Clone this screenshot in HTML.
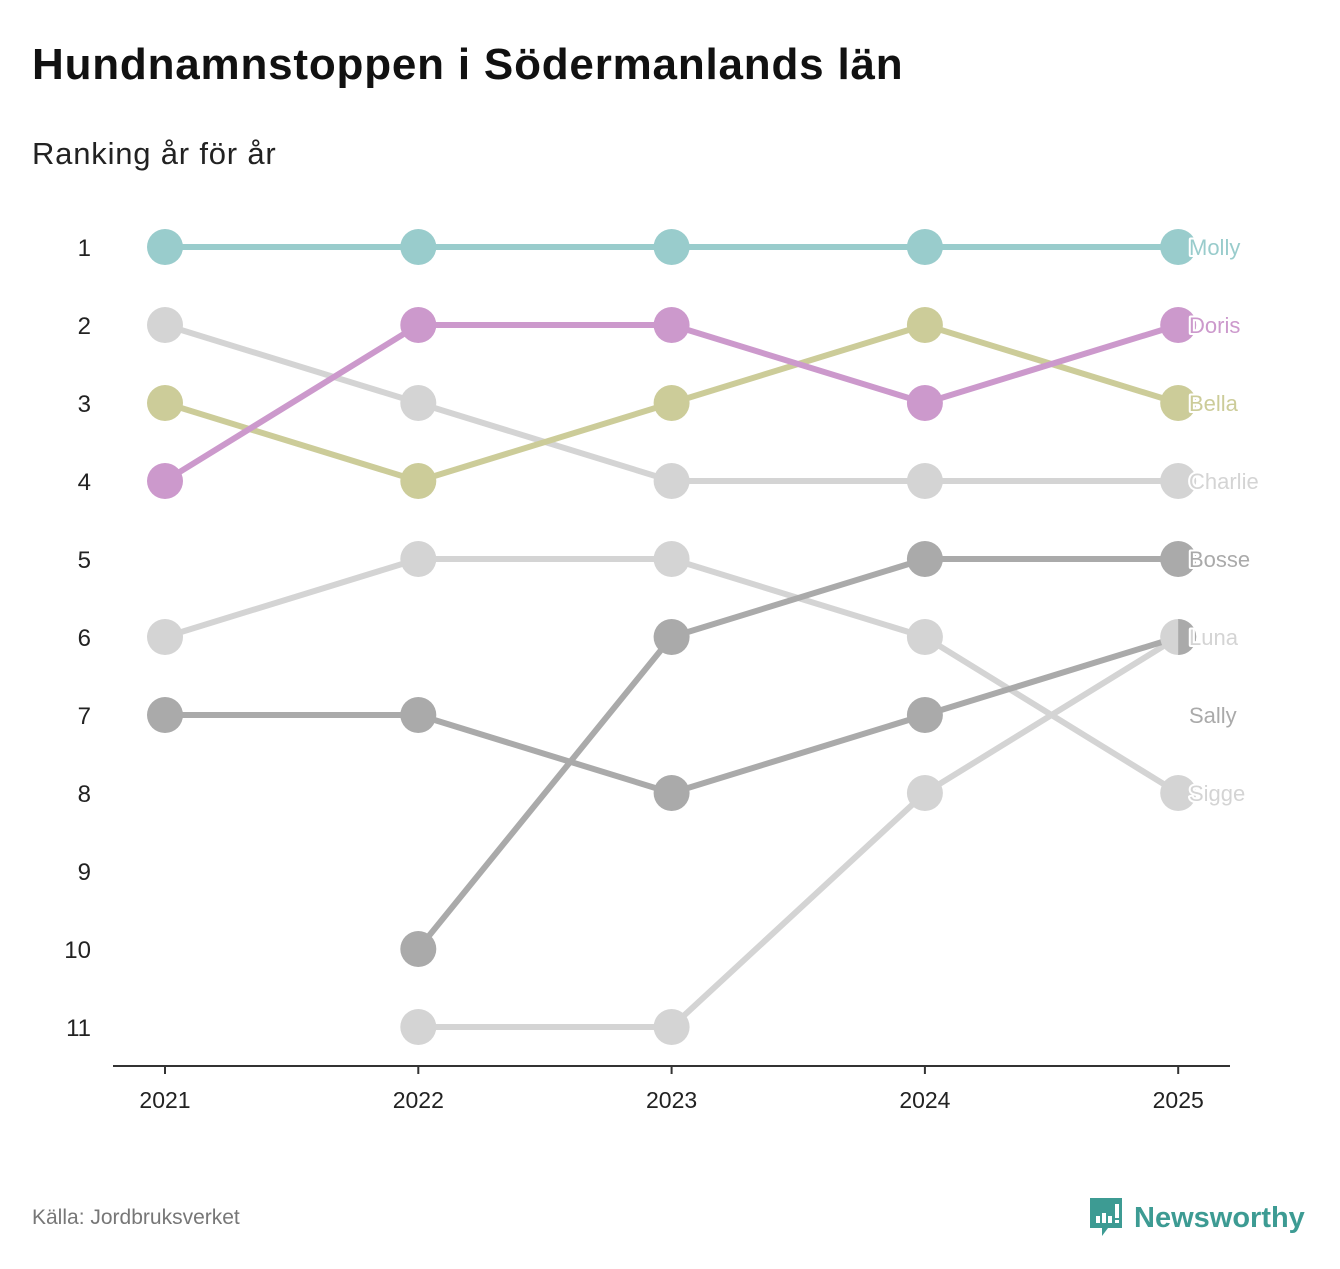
<!DOCTYPE html>
<html><head><meta charset="utf-8">
<style>
body{margin:0;background:#fff;font-family:"Liberation Sans",sans-serif;}
#wrap{position:relative;width:1340px;height:1269px;overflow:hidden;}
h1{position:absolute;left:32px;top:40px;margin:0;font-size:44px;letter-spacing:0.8px;font-weight:bold;color:#111;}
.sub{position:absolute;left:32px;top:136px;font-size:31px;letter-spacing:0.8px;color:#222;}
.src{position:absolute;left:32px;top:1206px;font-size:21px;color:#777;}
.logo{position:absolute;left:1088px;top:1196px;display:flex;align-items:center;}
.logo span{font-size:29px;font-weight:bold;color:#3d9b93;margin-left:10px;}
</style></head><body>
<div id="wrap">
<h1>Hundnamnstoppen i Södermanlands län</h1>
<div class="sub">Ranking år för år</div>
<svg id="chart" width="1340" height="1269" style="position:absolute;left:0;top:0"></svg>
<div class="src">Källa: Jordbruksverket</div>
<div class="logo">
<svg width="36" height="44" viewBox="0 0 36 44"><path d="M2 2h32v30H20l-6 8v-8H2z" fill="#3d9b93"/><rect x="8" y="20" width="4" height="7" fill="#fff"/><rect x="14" y="17" width="4" height="10" fill="#fff"/><rect x="20" y="20" width="4" height="7" fill="#fff"/><rect x="27" y="8" width="4" height="14" fill="#fff"/><rect x="27" y="24" width="4" height="3" fill="#fff"/></svg>
<span>Newsworthy</span></div>
</div>
<script>
const years=[2021,2022,2023,2024,2025];
const rankTicks=[1,2,3,4,5,6,7,8,9,10,11];
const molly=[1,1,1,1,1];
const doris=[4,2,2,3,2];
const bella=[3,4,3,2,3];
const charlie=[2,3,4,4,4];
const sigge=[6,5,5,6,8];
const bosse=[null,10,6,5,5];
const sally=[7,7,8,7,6];
const luna=[null,11,11,8,6];
const seriesNames=["Sigge","Luna","Charlie","Bosse","Sally","Bella","Doris","Molly"];
const seriesValues=[sigge,luna,charlie,bosse,sally,bella,doris,molly];
const seriesColors=["#d4d4d4","#d4d4d4","#d4d4d4","#aaaaaa","#aaaaaa","#cccc99","#cc99cc","#99cccc"];
const labelRanks={Molly:1,Doris:2,Bella:3,Charlie:4,Bosse:5,Luna:6,Sally:7,Sigge:8};

const NS="http://www.w3.org/2000/svg";
const svg=document.getElementById('chart');
const x=i=>165+i*253.3;
const y=r=>247+(r-1)*78;
function mk(t,a){const e=document.createElementNS(NS,t);for(const k in a)e.setAttribute(k,a[k]);svg.appendChild(e);return e;}

rankTicks.forEach(r=>{const t=mk('text',{x:91,y:y(r)+9,'text-anchor':'end','font-size':24,fill:'#222'});t.textContent=r;

});
const ax=mk('line',{x1:113,x2:1230,y1:1066,y2:1066,stroke:'#333','stroke-width':2});


years.forEach((yr,i)=>{const tk=mk('line',{x1:x(i),x2:x(i),y1:1066,y2:1074,stroke:'#333','stroke-width':2});


const t=mk('text',{x:x(i),y:1108,'text-anchor':'middle','font-size':23,fill:'#222'});t.textContent=yr;

});

seriesValues.forEach((vals,s)=>{
  const c=seriesColors[s];let d='';
  vals.forEach((v,i)=>{if(v==null)return;d+=(d?'L':'M')+x(i)+' '+y(v);});
  const p=mk('path',{d:d,fill:'none',stroke:c,'stroke-width':6});
  
  
});
seriesValues.forEach((vals,s)=>{
  const c=seriesColors[s];
  vals.forEach((v,i)=>{if(v==null)return;
    const firstOther=seriesValues.findIndex((vv,o)=>o!==s&&vv[i]===v);
    let e;
    if(firstOther>=0&&firstOther<s){
      e=mk('path',{d:`M${x(i)} ${y(v)-18}A18 18 0 0 1 ${x(i)} ${y(v)+18}Z`,fill:c});
    }else{
      e=mk('circle',{cx:x(i),cy:y(v),r:18,fill:c});
    }
    
    
  });
});
seriesNames.forEach((n,s)=>{
  const t=mk('text',{x:1189,y:y(labelRanks[n])+8,'font-size':22,fill:seriesColors[s],stroke:'#fff','stroke-width':4,'paint-order':'stroke','stroke-linejoin':'round'});t.textContent=n;
  
  
});
</script>
</body></html>
